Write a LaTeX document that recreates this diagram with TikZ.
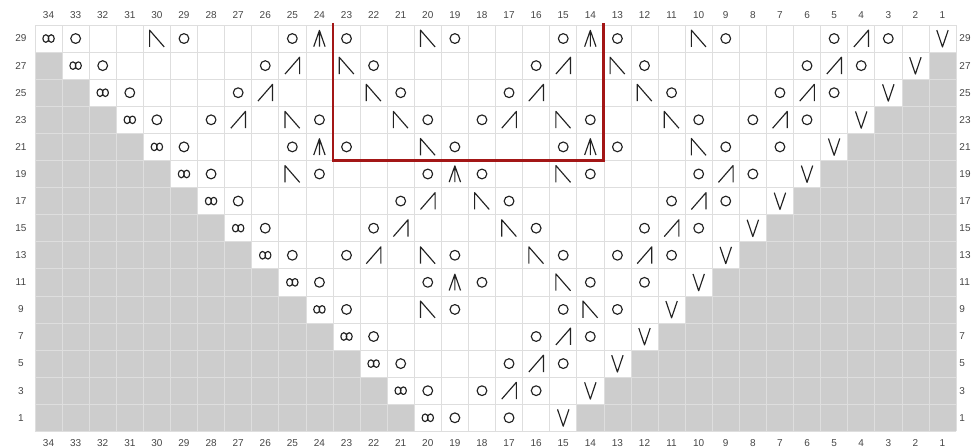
\documentclass[tikz,border=0pt]{standalone}
\usepackage{fontspec}
\setmainfont{Liberation Sans}
\usetikzlibrary{positioning}
\definecolor{chartred}{RGB}{163,22,22}
\definecolor{gridgray}{RGB}{222,222,222}
\definecolor{nostitch}{RGB}{205,205,205}
\definecolor{numtext}{RGB}{70,70,70}
\definecolor{inkblack}{RGB}{34,34,34}

\begin{document}
\begin{tikzpicture}[
    gridline/.style={draw=gridgray, line width=0.7pt},
    blank/.style={fill=nostitch},
    num/.style={font=\fontsize{10.5}{12}\selectfont, text=numtext, inner sep=0pt},
    sym/.style={draw=inkblack, line width=1.2pt, line join=round},
    repeatbox/.style={draw=chartred, line width=3pt},
    yo/.pic={\draw[sym] (0,0) circle (0.18);},
    ssk/.pic={\draw[sym] (-0.27,-0.31) -- (-0.27,0.31) -- (0.27,-0.31);},
    ktog/.pic={\draw[sym] (-0.27,-0.31) -- (0.27,0.31) -- (0.27,-0.31);},
    cdd/.pic={\draw[sym] (-0.21,-0.3) -- (0,0.3) -- (0.21,-0.3) (0,0.3) -- (0,-0.3);},
    slip/.pic={\draw[sym] (-0.21,0.31) -- (0,-0.31) -- (0.21,0.31);},
    twoloop/.pic={\draw[sym] (-0.1,0) ellipse (0.11 and 0.14) (0.1,0) ellipse (0.11 and 0.14);}
  ]
  \useasboundingbox[fill=white] (-1.292,-0.572) rectangle (34.59,15.923);

  % no-stitch cells
  \foreach \r in {1,3,...,27} {
    \fill[blank] (0,{(\r-1)/2}) rectangle ({(29-\r)/2},{(\r+1)/2});
    \fill[blank] ({34-(29-\r)/2},{(\r-1)/2}) rectangle (34,{(\r+1)/2});
  }

  % grid
  \draw[gridline] (0,0) grid (34,15);

  % stitch numbers
  \foreach \c in {1,...,34} {
    \node[num] (top\c) at ({34.5-\c},15.37) {\c};
    \node[num] (bot\c) at ({34.5-\c},-0.42) {\c};
  }
  % row numbers
  \foreach \r in {1,3,...,29} {
    \node[num] (left\r) at (-0.52,{\r/2}) {\r};
    \node[num, anchor=west] (right\r) at (34.12,{\r/2}) {\r};
  }

  % edge stitches
  \foreach \r in {1,3,...,29} {
    \pic at ({34.5-(39+\r)/2},{\r/2}) {twoloop};
    \pic at ({34.5-(31-\r)/2},{\r/2}) {slip};
  }

  % yarn overs
  \foreach \c/\r in {33/29,29/29,25/29,23/29,19/29,15/29,13/29,9/29,5/29,3/29,
                     32/27,26/27,22/27,16/27,12/27,6/27,4/27,
                     31/25,27/25,21/25,17/25,11/25,7/25,5/25,
                     30/23,28/23,24/23,20/23,18/23,14/23,10/23,8/23,6/23,
                     29/21,25/21,23/21,19/21,15/21,13/21,9/21,7/21,
                     28/19,24/19,20/19,18/19,14/19,10/19,8/19,
                     27/17,21/17,17/17,11/17,9/17,
                     26/15,22/15,16/15,12/15,10/15,
                     25/13,23/13,19/13,15/13,13/13,11/13,
                     24/11,20/11,18/11,14/11,12/11,
                     23/9,19/9,15/9,13/9,
                     22/7,16/7,14/7,
                     21/5,17/5,15/5,
                     20/3,18/3,16/3,
                     19/1,17/1}
    \pic at ({34.5-\c},{\r/2}) {yo};

  % left-leaning decreases
  \foreach \c/\r in {30/29,20/29,10/29,23/27,13/27,22/25,12/25,
                     25/23,21/23,15/23,11/23,20/21,10/21,25/19,15/19,
                     18/17,17/15,20/13,16/13,15/11,20/9,14/9}
    \pic at ({34.5-\c},{\r/2}) {ssk};

  % right-leaning decreases
  \foreach \c/\r in {4/29,25/27,15/27,5/27,26/25,16/25,6/25,27/23,17/23,7/23,
                     9/19,20/17,10/17,21/15,11/15,22/13,12/13,15/7,16/5,17/3}
    \pic at ({34.5-\c},{\r/2}) {ktog};

  % double decreases
  \foreach \c/\r in {24/29,14/29,24/21,14/21,19/19,19/11}
    \pic at ({34.5-\c},{\r/2}) {cdd};

  % pattern repeat
  \draw[repeatbox] (11,15.08) -- (11,10) -- (21,10) -- (21,15.08);
\end{tikzpicture}
\end{document}
